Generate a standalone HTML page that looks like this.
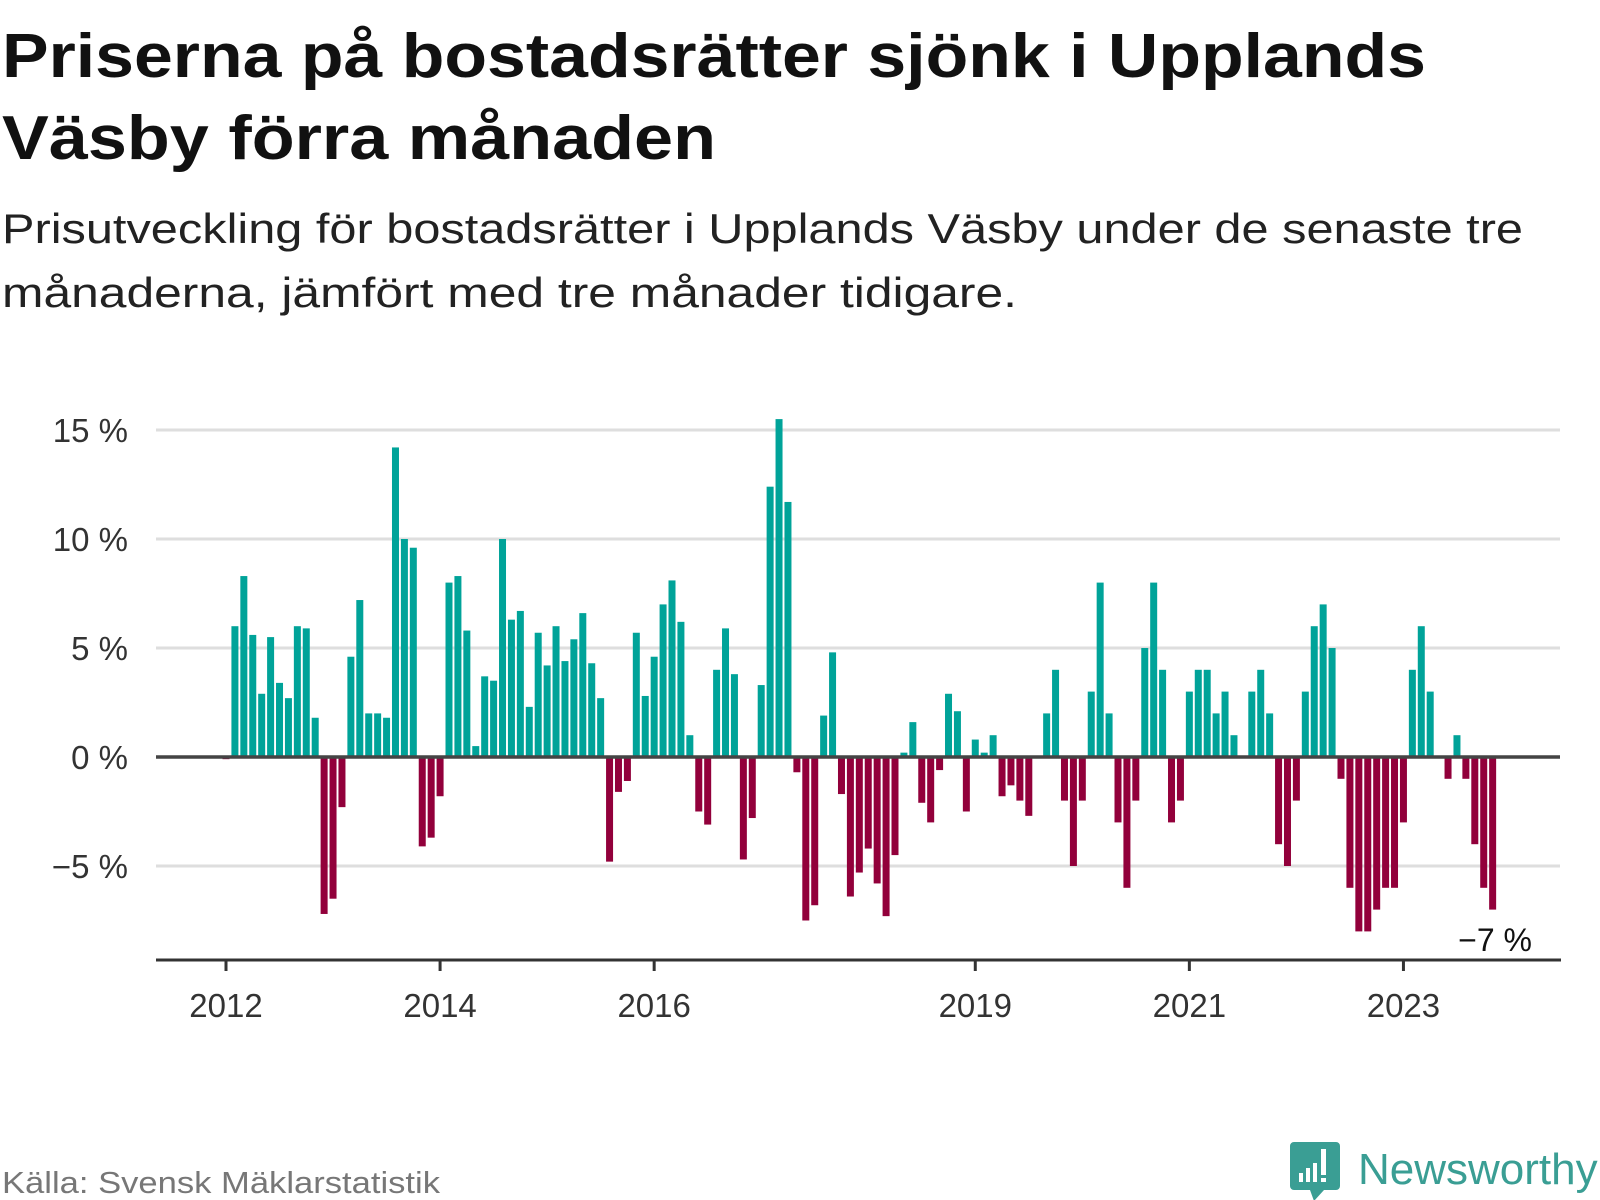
<!DOCTYPE html>
<html><head><meta charset="utf-8">
<style>
body{margin:0;background:#fff;width:1600px;height:1200px;overflow:hidden;font-family:"Liberation Sans",sans-serif;}
svg{display:block}
</style></head>
<body>
<svg width="1600" height="1200" xmlns="http://www.w3.org/2000/svg">
<text x="2" y="77" font-size="62" font-weight="bold" fill="#111" textLength="1424" lengthAdjust="spacingAndGlyphs">Priserna på bostadsrätter sjönk i Upplands</text>
<text x="2" y="159" font-size="62" font-weight="bold" fill="#111" textLength="714" lengthAdjust="spacingAndGlyphs">Väsby förra månaden</text>
<text x="2" y="243" font-size="42" fill="#222" textLength="1521" lengthAdjust="spacingAndGlyphs">Prisutveckling för bostadsrätter i Upplands Väsby under de senaste tre</text>
<text x="2" y="307" font-size="42" fill="#222" textLength="1015" lengthAdjust="spacingAndGlyphs">månaderna, jämfört med tre månader tidigare.</text>
<g id="grid"></g>
<g id="bars"></g>
<g id="axes"></g>
<text x="1532" y="951" font-size="32" fill="#111" text-anchor="end">−7 %</text>
<text x="2" y="1193" font-size="31" fill="#777" textLength="438" lengthAdjust="spacingAndGlyphs">Källa: Svensk Mäklarstatistik</text>
<g>
<path d="M1294 1142 h42 a4 4 0 0 1 4 4 v40 a4 4 0 0 1 -4 4 h-12 l-10 11 l-4 -11 h-16 a4 4 0 0 1 -4 -4 v-40 a4 4 0 0 1 4 -4z" fill="#3a9e94"/>
<rect x="1299" y="1173" width="4" height="9" fill="#fff"/>
<rect x="1306" y="1168" width="4" height="14" fill="#fff"/>
<rect x="1313" y="1163" width="4" height="19" fill="#fff"/>
<rect x="1321" y="1149" width="5" height="26" fill="#fff"/>
<rect x="1321" y="1178" width="5" height="4" fill="#fff"/>
<text x="1358" y="1184" font-size="44" fill="#3a9e94">Newsworthy</text>
</g>
</svg>
<script>
const values=[-0.1,6.0,8.3,5.6,2.9,5.5,3.4,2.7,6.0,5.9,1.8,-7.2,-6.5,-2.3,4.6,7.2,2.0,2.0,1.8,14.2,10.0,9.6,-4.1,-3.7,-1.8,8.0,8.3,5.8,0.5,3.7,3.5,10.0,6.3,6.7,2.3,5.7,4.2,6.0,4.4,5.4,6.6,4.3,2.7,-4.8,-1.6,-1.1,5.7,2.8,4.6,7.0,8.1,6.2,1.0,-2.5,-3.1,4.0,5.9,3.8,-4.7,-2.8,3.3,12.4,15.5,11.7,-0.7,-7.5,-6.8,1.9,4.8,-1.7,-6.4,-5.3,-4.2,-5.8,-7.3,-4.5,0.2,1.6,-2.1,-3.0,-0.6,2.9,2.1,-2.5,0.8,0.2,1.0,-1.8,-1.3,-2.0,-2.7,0,2.0,4.0,-2.0,-5.0,-2.0,3.0,8.0,2.0,-3.0,-6.0,-2.0,5.0,8.0,4.0,-3.0,-2.0,3.0,4.0,4.0,2.0,3.0,1.0,0,3,4,2,-4,-5,-2,3,6,7,5,-1,-6,-8,-8,-7,-6,-6,-3,4,6,3,0,-1,1,-1,-4,-6,-7];
const yTicks=[15,10,5,0,-5];
const yTickLabels=["15 %","10 %","5 %","0 %","−5 %"];
const xTickMonths=[0,24,48,84,108,132];
const xTickLabels=["2012","2014","2016","2019","2021","2023"];
const NS="http://www.w3.org/2000/svg";
function x(m){return 226+m*8.92;}
function y(v){return 757-v*21.8;}
function mk(tag,attrs,parent){const e=document.createElementNS(NS,tag);for(const k in attrs)e.setAttribute(k,attrs[k]);parent.appendChild(e);return e;}
const grid=document.getElementById('grid'),bars=document.getElementById('bars'),axes=document.getElementById('axes');
yTicks.forEach((t,i)=>{
  if(t!==0){const l=mk('line',{x1:156,x2:1560,y1:y(t),y2:y(t),stroke:'#dedede','stroke-width':3},grid);
  
  }
  const tx=mk('text',{x:128,y:y(t)+12,'font-size':33,fill:'#333','text-anchor':'end'},axes);
  tx.textContent=yTickLabels[i];
  
  
});
values.forEach((v,m)=>{
  if(v===0)return;
  const top=v>0?y(v):y(0);const h=Math.abs(y(v)-y(0));
  const r=mk('rect',{x:x(m)-3.5,y:top,width:7,height:h,fill:v>0?'#00a399':'#92003b'},bars);
  
  
});
const z=mk('line',{x1:156,x2:1560,y1:y(0),y2:y(0),stroke:'#444','stroke-width':3.5},axes);


const ax=mk('line',{x1:156,x2:1561,y1:960,y2:960,stroke:'#333','stroke-width':3},axes);


xTickMonths.forEach((m,i)=>{
  const t=mk('line',{x1:x(m),x2:x(m),y1:960,y2:971,stroke:'#333','stroke-width':3},axes);
  
  
  const tx=mk('text',{x:x(m),y:1017,'font-size':33,fill:'#333','text-anchor':'middle'},axes);
  tx.textContent=xTickLabels[i];
  
  
});
</script>
</body></html>
